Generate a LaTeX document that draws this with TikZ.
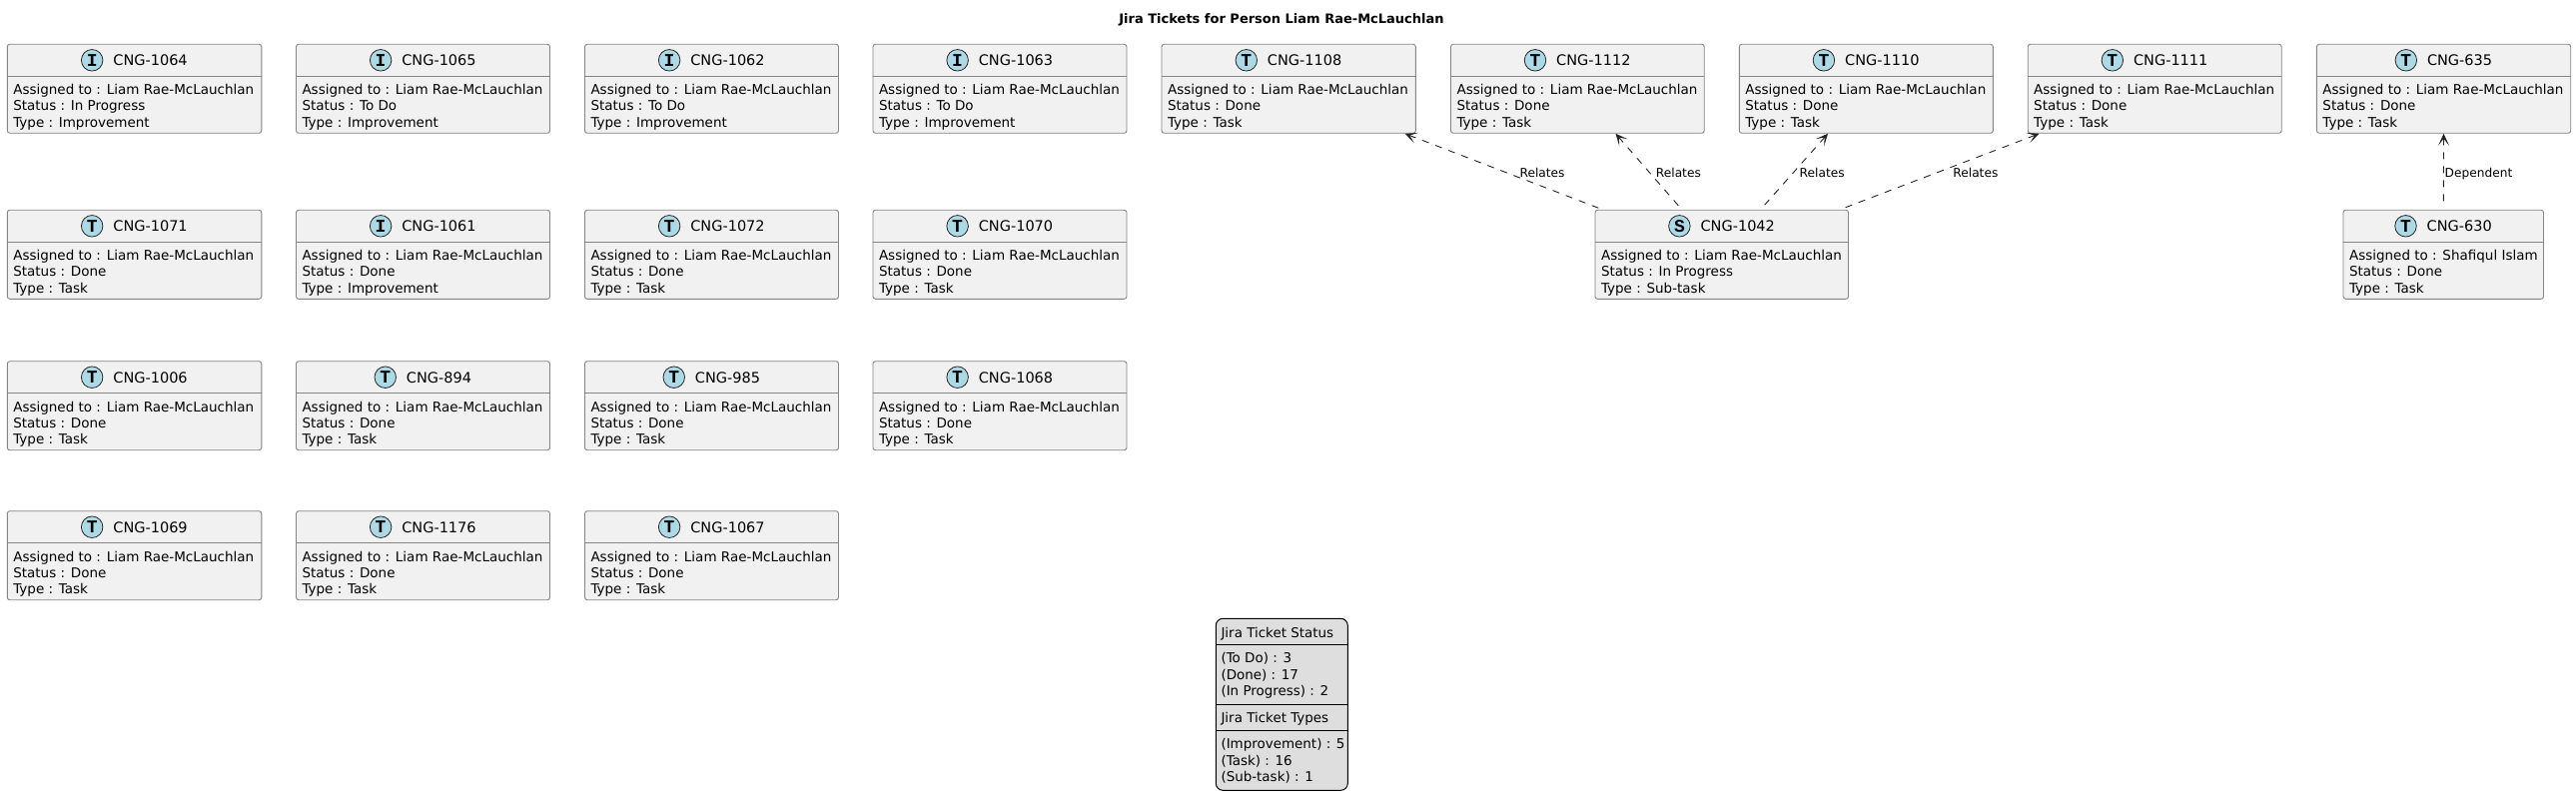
\documentclass[tikz,border=0pt]{standalone}
\usepackage{fontspec}
\setmainfont{DejaVu Sans}
\newfontfamily\iconfont{Liberation Mono}
\usetikzlibrary{arrows.meta,calc}
\newcommand{\bodyfont}{\fontsize{13.5}{15}\selectfont}
\newcommand{\headfont}{\fontsize{14.5}{16}\selectfont}
\newcommand{\legfont}{\fontsize{13.45}{15}\selectfont}
\definecolor{iconblue}{HTML}{ADD8E6}
\tikzset{
  ticketbox/.style={draw=black!48,fill=black!5.5,line width=0.9pt,rounded corners=2.5pt,inner sep=0pt,outer sep=0pt,anchor=north west},
  ruleline/.style={draw=black!48,line width=0.9pt},
  headtext/.style={inner sep=0pt,anchor=base,font=\headfont,text=black},
  bodytext/.style={inner sep=0pt,anchor=base west,font=\bodyfont,text=black},
  iconcircle/.style={circle,draw=black!85,fill=iconblue,line width=0.8pt,minimum size=21.5pt,inner sep=0pt,font=\iconfont\bfseries\fontsize{18}{18}\selectfont},
  dep/.style={draw=black!85,line width=0.9pt,dash pattern=on 7pt off 7pt,{Stealth[length=12pt,width=11pt,inset=7pt]}-},
  edgetext/.style={inner sep=0pt,anchor=base west,font=\fontsize{12.2}{14}\selectfont,text=black},
  legendbox/.style={draw=black,fill=black!13,line width=1pt,rounded corners=7pt,inner sep=0pt,outer sep=0pt,anchor=north west},
  legendrule/.style={draw=black,line width=1pt},
  legendtext/.style={inner sep=0pt,anchor=base west,font=\legfont,text=black},
  titletext/.style={inner sep=0pt,anchor=base,font=\fontsize{13}{15}\selectfont\bfseries,text=black}
}
% name, x, y, width, letter, id, assigned, status, type
\newcommand{\ticket}[9]{%
  \node[ticketbox,minimum width=#4pt,minimum height=89pt] (#1) at (#2,#3) {};
  \draw[ruleline] ($(#1.north west)+(0,32)$) -- ($(#1.north east)+(0,32)$);
  \node[headtext] (#1h) at ($(#1.north)+(16,21.7)$) {#6};
  \node[iconcircle] (#1i) at ([xshift=-21pt,yshift=5.7pt]#1h.base west) {#5};
  \node[bodytext] (#1a) at ($(#1.north west)+(5.8,50.3)$) {Assigned to : #7};
  \node[bodytext] (#1b) at ($(#1.north west)+(5.8,66.6)$) {Status : #8};
  \node[bodytext] (#1c) at ($(#1.north west)+(5.8,83)$) {Type : #9};
}
\begin{document}
\begin{tikzpicture}[x=1pt,y=-1pt]
\path[use as bounding box,fill=white] (0,0) rectangle (2579,810);
\node[titletext] (title) at (1283,24) {Jira Tickets for Person Liam Rae-McLauchlan};
\def\LR{Liam Rae-McLauchlan}
\ticket{c1064}{7.3}{44.3}{254.5}{I}{CNG-1064}{\LR}{In Progress}{Improvement}
\ticket{c1065}{296.5}{44.3}{254}{I}{CNG-1065}{\LR}{To Do}{Improvement}
\ticket{c1062}{585.5}{44.3}{254}{I}{CNG-1062}{\LR}{To Do}{Improvement}
\ticket{c1063}{874}{44.3}{254}{I}{CNG-1063}{\LR}{To Do}{Improvement}
\ticket{c1108}{1163}{44.3}{254.3}{T}{CNG-1108}{\LR}{Done}{Task}
\ticket{c1112}{1452.5}{44.3}{253.7}{T}{CNG-1112}{\LR}{Done}{Task}
\ticket{c1110}{1741.3}{44.3}{254}{T}{CNG-1110}{\LR}{Done}{Task}
\ticket{c1111}{2030.2}{44.3}{254}{T}{CNG-1111}{\LR}{Done}{Task}
\ticket{c635}{2319.4}{44.3}{254.3}{T}{CNG-635}{\LR}{Done}{Task}
\ticket{c1071}{7.3}{210.3}{254.5}{T}{CNG-1071}{\LR}{Done}{Task}
\ticket{c1061}{296.5}{210.3}{254}{I}{CNG-1061}{\LR}{Done}{Improvement}
\ticket{c1072}{585.5}{210.3}{254}{T}{CNG-1072}{\LR}{Done}{Task}
\ticket{c1070}{874}{210.3}{254}{T}{CNG-1070}{\LR}{Done}{Task}
\ticket{c1042}{1597}{210.3}{253.5}{S}{CNG-1042}{\LR}{In Progress}{Sub-task}
\ticket{c630}{2346}{210.3}{200.5}{T}{CNG-630}{Shafiqul Islam}{Done}{Task}
\ticket{c1006}{7.3}{361.7}{254.5}{T}{CNG-1006}{\LR}{Done}{Task}
\ticket{c894}{296.5}{361.7}{254}{T}{CNG-894}{\LR}{Done}{Task}
\ticket{c985}{585.5}{361.7}{254}{T}{CNG-985}{\LR}{Done}{Task}
\ticket{c1068}{874}{361.7}{254}{T}{CNG-1068}{\LR}{Done}{Task}
\ticket{c1069}{7.3}{511.7}{254.5}{T}{CNG-1069}{\LR}{Done}{Task}
\ticket{c1176}{296.5}{511.7}{254}{T}{CNG-1176}{\LR}{Done}{Task}
\ticket{c1067}{585.5}{511.7}{254}{T}{CNG-1067}{\LR}{Done}{Task}
% connectors
\draw[dep] ([xshift=-10.7pt,yshift=-0.5pt]c1108.south east) -- ([xshift=4.5pt,yshift=1.6pt]c1042.north west);
\draw[dep] ([xshift=-88.7pt,yshift=-0.5pt]c1112.south east) -- ([xshift=84.6pt,yshift=3pt]c1042.north west);
\draw[dep] ([xshift=88.7pt,yshift=-0.5pt]c1110.south west) -- ([xshift=167.8pt,yshift=3pt]c1042.north west);
\draw[dep] ([xshift=11.3pt,yshift=-0.5pt]c1111.south west) -- ([xshift=-5.5pt,yshift=1.6pt]c1042.north east);
\draw[dep] ([yshift=-0.5pt]c635.south) -- ([yshift=6pt]c630.north);
% connector labels
\node[edgetext] (r1) at (1521.4,177.5) {Relates};
\node[edgetext] (r2) at (1657.7,177.5) {Relates};
\node[edgetext] (r3) at (1801.5,177.5) {Relates};
\node[edgetext] (r4) at (1955.2,177.5) {Relates};
\node[edgetext] (d1) at (2447.4,177.5) {Dependent};
% legend
\node[legendbox,minimum width=132pt,minimum height=172pt] (legend) at (1217.3,619.3) {};
\draw[legendrule] (legend.west |- 0,645.3) -- (legend.east |- 0,645.3);
\draw[legendrule] (legend.west |- 0,705.3) -- (legend.east |- 0,705.3);
\draw[legendrule] (legend.west |- 0,731.3) -- (legend.east |- 0,731.3);
\node[legendtext] (l1) at (1222.3,638) {Jira Ticket Status};
\node[legendtext] (l2) at (1222.3,663.3) {(To Do) : 3};
\node[legendtext] (l3) at (1222.3,680.3) {(Done) : 17};
\node[legendtext] (l4) at (1222.3,696) {(In Progress) : 2};
\node[legendtext] (l5) at (1222.3,723.6) {Jira Ticket Types};
\node[legendtext] (l6) at (1222.3,749.3) {(Improvement) : 5};
\node[legendtext] (l7) at (1222.3,766) {(Task) : 16};
\node[legendtext] (l8) at (1222.3,782) {(Sub-task) : 1};
\end{tikzpicture}
\end{document}
